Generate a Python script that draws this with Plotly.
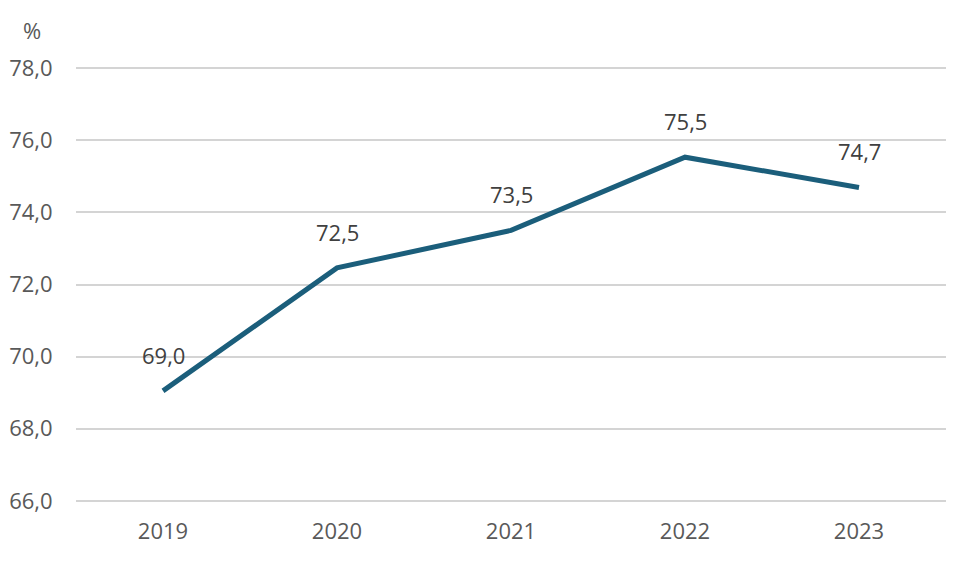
import plotly.graph_objects as go

years = ["2019", "2020", "2021", "2022", "2023"]
values = [69.05, 72.46, 73.5, 75.53, 74.69]
y_ticks = [66, 68, 70, 72, 74, 76, 78]
y_tick_text = [f"{t:.1f}".replace(".", ",") for t in y_ticks]

line_color = "#1b5e7b"
text_color = "#595959"
font_family = "Open Sans, Liberation Sans, sans-serif"
W, H = 964, 567
OFF = 8  # default page body margin
ML, MR, MT, MB = 76 - OFF, 18 + OFF, 67 - OFF, 65 + OFF

fig = go.Figure()
fig.add_trace(go.Scatter(
    x=years, y=values, mode="lines",
    line=dict(color=line_color, width=5),
    hoverinfo="skip",
))

annotations = []
for i, v in enumerate(values):
    annotations.append(dict(
        x=i, y=v, xref="x", yref="y",
        text=f"{v:.1f}".replace(".", ","),
        showarrow=False, yshift=36,
        font=dict(size=22, color="#404040", family=font_family),
    ))
plot_w = W - ML - MR
plot_h = H - MT - MB
annotations.append(dict(
    x=(32 - OFF - ML) / plot_w, y=(H - MB - (30 - OFF)) / plot_h,
    xref="paper", yref="paper", text="%", showarrow=False,
    xanchor="center", yanchor="middle",
    font=dict(size=22, color=text_color, family=font_family),
))

fig.update_layout(
    width=W, height=H,
    margin=dict(l=ML, r=MR, t=MT, b=MB, autoexpand=False),
    paper_bgcolor="white", plot_bgcolor="white",
    showlegend=False,
    font=dict(family=font_family, size=22, color=text_color),
    annotations=annotations,
)

fig.update_xaxes(
    type="category", range=[-0.5, len(years) - 0.5], autorange=False,
    showgrid=False, showline=False, zeroline=False, automargin=False,
    ticks="outside", ticklen=10, tickcolor="rgba(0,0,0,0)",
    tickfont=dict(size=22, color=text_color, family=font_family),
)
fig.update_yaxes(
    range=[65.97, 78.03], autorange=False,
    tickmode="array", tickvals=y_ticks, ticktext=y_tick_text,
    showgrid=True, gridcolor="#d4d4d4", gridwidth=1.5,
    zeroline=False, showline=False, automargin=False,
    ticks="outside", ticklen=18, tickcolor="rgba(0,0,0,0)",
    tickfont=dict(size=22, color=text_color, family=font_family),
)

fig.write_html("out.html")
